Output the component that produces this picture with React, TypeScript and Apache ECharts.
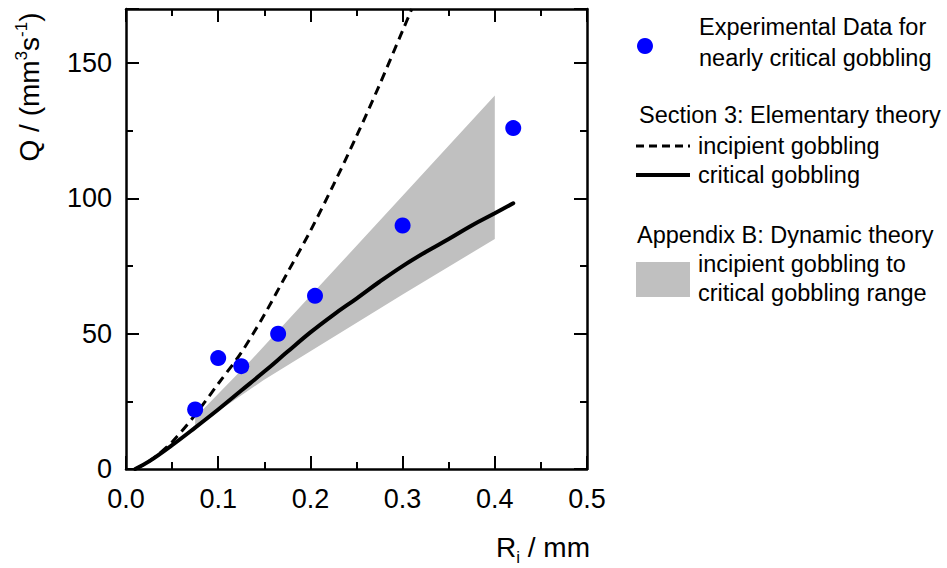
import React, { useEffect, useRef } from "react";
import * as echarts from "echarts";

const expX = [0.075, 0.1, 0.125, 0.165, 0.205, 0.3, 0.42];
const expQ = [22, 41, 38, 50, 64, 90, 126];

const incipX = [0.01, 0.02, 0.03, 0.05, 0.075, 0.1, 0.125, 0.15, 0.175, 0.2, 0.225, 0.25, 0.275, 0.3, 0.31];
const incipQ = [0, 1.8, 4, 10, 20, 31.5, 43, 57, 72.5, 88, 105, 123, 142, 162, 170];

const critX = [0.01, 0.025, 0.05, 0.075, 0.1, 0.125, 0.15, 0.175, 0.2, 0.225, 0.25, 0.275, 0.3, 0.325, 0.35, 0.375, 0.4, 0.42];
const critQ = [0, 2.8, 8.8, 15.3, 22, 29, 36, 43.3, 50.5, 57, 63, 69.2, 75, 80.2, 85, 90, 94.5, 98.2];

const bandX = [0.075, 0.135, 0.2, 0.315, 0.4];
const bandUpper = [19, 40, 64, 106.5, 138];
const bandLowerX = [0.075, 0.149, 0.2, 0.3, 0.4];
const bandLower = [15.5, 32.8, 43.5, 64.5, 85];

const xTicks = [0, 0.1, 0.2, 0.3, 0.4, 0.5];
const yTicks = [0, 50, 100, 150];

const FONT = "'Liberation Sans', Arial, sans-serif";
const LF = 23.5;

export default function App() {
  const ref = useRef<HTMLDivElement>(null);
  useEffect(() => {
    document.body.style.margin = "0";
    const chart = echarts.init(ref.current!, null, { renderer: "svg" });
    const axisCommon = {
      type: "value" as const,
      axisLine: { show: true, onZero: false, lineStyle: { color: "#000", width: 2.5 } },
      axisTick: { show: true, inside: true, length: 13, lineStyle: { color: "#000", width: 2 } },
      minorTick: { show: true, splitNumber: 2, length: 7, lineStyle: { color: "#000", width: 2 } },
      splitLine: { show: false },
    };
    const pts = (xs: number[], ys: number[]) => xs.map((x, i) => [x, ys[i]]);
    const legendText = (x: number, y: number, text: string) => ({
      type: "text",
      x,
      y,
      style: { text, fontSize: LF, fontFamily: FONT, fill: "#000", verticalAlign: "middle" },
    });
    chart.setOption({
      animation: false,
      grid: { left: 126, right: 360, top: 9, bottom: 99 },
      xAxis: [
        {
          ...axisCommon,
          min: 0,
          max: 0.5,
          interval: 0.1,
          position: "bottom",
          axisLabel: {
            color: "#000",
            fontSize: 27,
            fontFamily: FONT,
            margin: 16,
            formatter: (v: number) => (xTicks.some((t) => Math.abs(t - v) < 1e-9) ? v.toFixed(1) : ""),
          },
        },
        {
          ...axisCommon,
          min: 0,
          max: 0.5,
          interval: 0.1,
          position: "top",
          axisLabel: { show: false },
        },
      ],
      yAxis: [
        {
          ...axisCommon,
          min: 0,
          max: 170,
          interval: 50,
          position: "left",
          axisLabel: {
            color: "#000",
            fontSize: 27,
            fontFamily: FONT,
            margin: 14,
            formatter: (v: number) => (yTicks.includes(v) ? String(v) : ""),
          },
        },
        {
          ...axisCommon,
          min: 0,
          max: 170,
          interval: 50,
          position: "right",
          axisLabel: { show: false },
        },
      ],
      series: [
        {
          type: "custom",
          name: "band",
          data: [[0, 0]],
          z: 1,
          renderItem: (params: any, api: any) => {
            const up = bandX.map((x, i) => api.coord([x, bandUpper[i]]));
            const lo = bandLowerX.map((x, i) => api.coord([x, bandLower[i]])).reverse();
            return {
              type: "polygon",
              shape: { points: up.concat(lo) },
              style: { fill: "#c0c0c0" },
            };
          },
        },
        {
          type: "line",
          name: "incipient gobbling",
          data: pts(incipX, incipQ),
          smooth: 0.3,
          showSymbol: false,
          z: 3,
          lineStyle: { color: "#000", width: 3, type: [9, 6] },
        },
        {
          type: "line",
          name: "critical gobbling",
          data: pts(critX, critQ),
          smooth: 0.4,
          showSymbol: false,
          z: 3,
          lineStyle: { color: "#000", width: 4, cap: "round" },
        },
        {
          type: "scatter",
          name: "Experimental Data",
          data: pts(expX, expQ),
          symbolSize: 16,
          z: 5,
          itemStyle: { color: "#0000ff", opacity: 1 },
        },
      ],
      graphic: [
        {
          type: "text",
          x: 29,
          y: 87,
          rotation: Math.PI / 2,
          style: {
            text: "{a|Q / (mm}{sup|3}{a|s}{sup|-1}{a|)}",
            align: "center",
            verticalAlign: "middle",
            rich: {
              a: { fontSize: 28, fontFamily: FONT, fill: "#000" },
              sup: { fontSize: 17, fontFamily: FONT, fill: "#000", padding: [0, 0, 16, 0] },
            },
          },
        },
        {
          type: "text",
          x: 543,
          y: 547,
          style: {
            text: "{a|R}{sub|i}{a| / mm}",
            align: "center",
            verticalAlign: "middle",
            rich: {
              a: { fontSize: 28, fontFamily: FONT, fill: "#000" },
              sub: { fontSize: 17, fontFamily: FONT, fill: "#000", padding: [20, 0, 0, 0] },
            },
          },
        },
        { type: "circle", shape: { cx: 645, cy: 46, r: 8 }, style: { fill: "#0000ff" } },
        legendText(699, 27, "Experimental Data for"),
        legendText(699, 58, "nearly critical gobbling"),
        legendText(639, 115, "Section 3: Elementary theory"),
        {
          type: "line",
          shape: { x1: 636, y1: 146, x2: 690, y2: 146 },
          style: { stroke: "#000", lineWidth: 3, lineDash: [8, 5] },
        },
        legendText(698, 146, "incipient gobbling"),
        {
          type: "line",
          shape: { x1: 636, y1: 175, x2: 690, y2: 175 },
          style: { stroke: "#000", lineWidth: 4 },
        },
        legendText(698, 175, "critical gobbling"),
        legendText(637, 235, "Appendix B: Dynamic theory"),
        { type: "rect", shape: { x: 636, y: 262, width: 54, height: 35 }, style: { fill: "#c0c0c0" } },
        legendText(698, 264, "incipient gobbling to"),
        legendText(698, 293, "critical gobbling range"),
      ],
    });
    return () => chart.dispose();
  }, []);
  return <div ref={ref} style={{ width: 947, height: 568, position: "absolute", left: 0, top: 0 }} />;
}
